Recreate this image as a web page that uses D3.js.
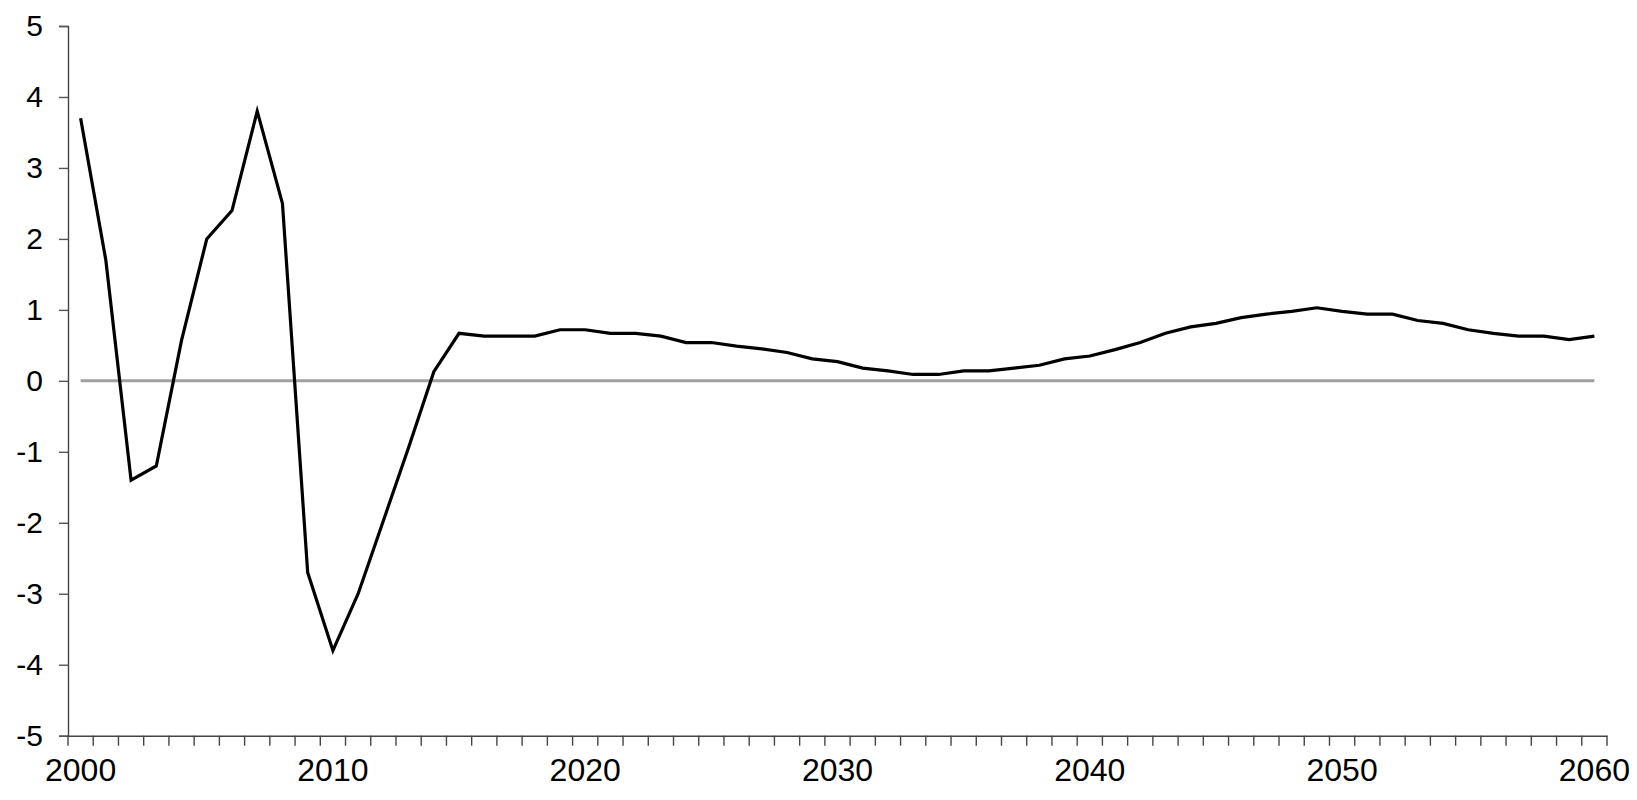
<!DOCTYPE html>
<html>
<head>
<meta charset="utf-8">
<script src="https://cdn.jsdelivr.net/npm/d3@7"></script>
<style>
  body { margin: 0; background: #fff; }
  text { font-family: "Liberation Sans", Arial, sans-serif; fill: #000; }
</style>
</head>
<body>
<div class="board"></div>
<script>
// data
let years = d3.range(2000, 2061);
let values = [
	3.7, 1.7, -1.4, -1.2, 0.57, 2.0, 2.4, 3.8, 2.5, -2.7,
	-3.8, -3.0, -1.97, -0.94, 0.13, 0.67, 0.63, 0.63, 0.63, 0.72,
	0.72, 0.67, 0.67, 0.63, 0.54, 0.54, 0.49, 0.45, 0.40, 0.31,
	0.27, 0.18, 0.14, 0.09, 0.09, 0.14, 0.14, 0.18, 0.22, 0.31,
	0.35, 0.44, 0.54, 0.67, 0.76, 0.81, 0.89, 0.94, 0.98, 1.03,
	0.98, 0.94, 0.94, 0.85, 0.81, 0.72, 0.67, 0.63, 0.63, 0.58,
	0.63
];
let zeroLine = years.map(() => 0);
let yTicks = [5, 4, 3, 2, 1, 0, -1, -2, -3, -4, -5];
let xLabels = [2000, 2010, 2020, 2030, 2040, 2050, 2060];

let dimensions = { width: 1637, height: 800 };
let plot = { left: 68, right: 1607, top: 26, bottom: 735.7 };

let svg = d3.select('.board').append('svg')
		.attr('width', dimensions.width)
		.attr('height', dimensions.height);

let x = d3.scaleBand()
		.domain(years)
		.range([plot.left, plot.right])
		.padding(0);

let y = d3.scaleLinear()
		.domain([-5, 5])
		.range([plot.bottom, plot.top]);

let cx = d => x(d) + x.bandwidth() / 2;

/////// AXES ///////////////////////////////////////

// plain hyphen for negatives, like the original
let yAxis = svg.append('g')
		.attr('transform', `translate(${plot.left},0)`)
		.call(d3.axisLeft(y).tickValues(yTicks).tickSize(9).tickPadding(16).tickFormat(d => String(d)));
yAxis.select('.domain').attr('stroke', '#444').attr('stroke-width', 1.4);
yAxis.selectAll('.tick line').attr('stroke', '#555').attr('stroke-width', 1.4);
yAxis.selectAll('.tick text')
		.attr('font-size', 30)
		.attr('fill', '#000');

let xAxis = svg.append('g')
		.attr('transform', `translate(0,${plot.bottom})`)
		.call(d3.axisBottom(x).tickValues(xLabels).tickSize(0).tickPadding(23));
xAxis.select('.domain').attr('stroke', '#444').attr('stroke-width', 1.4);
xAxis.selectAll('.tick text')
		.attr('font-size', 32)
		.attr('fill', '#000');

// tick marks sit between the years
svg.append('g')
	.selectAll('line')
	.data(years.concat([null]))
	.enter().append('line')
		.attr('x1', d => d === null ? plot.right : x(d))
		.attr('x2', d => d === null ? plot.right : x(d))
		.attr('y1', plot.bottom)
		.attr('y2', plot.bottom + 10)
		.attr('stroke', '#444')
		.attr('stroke-width', 1.4);

/////// LINES ///////////////////////////////////////

let line = d3.line()
		.x((d, i) => cx(years[i]))
		.y(d => y(d));

svg.append('path')
	.datum(zeroLine)
	.attr('d', line)
	.attr('fill', 'none')
	.attr('stroke', '#a0a0a0')
	.attr('stroke-width', 3);

svg.append('path')
	.datum(values)
	.attr('d', line)
	.attr('fill', 'none')
	.attr('stroke', '#000')
	.attr('stroke-width', 3.2)
	.attr('stroke-linejoin', 'miter');
</script>
</body>
</html>
